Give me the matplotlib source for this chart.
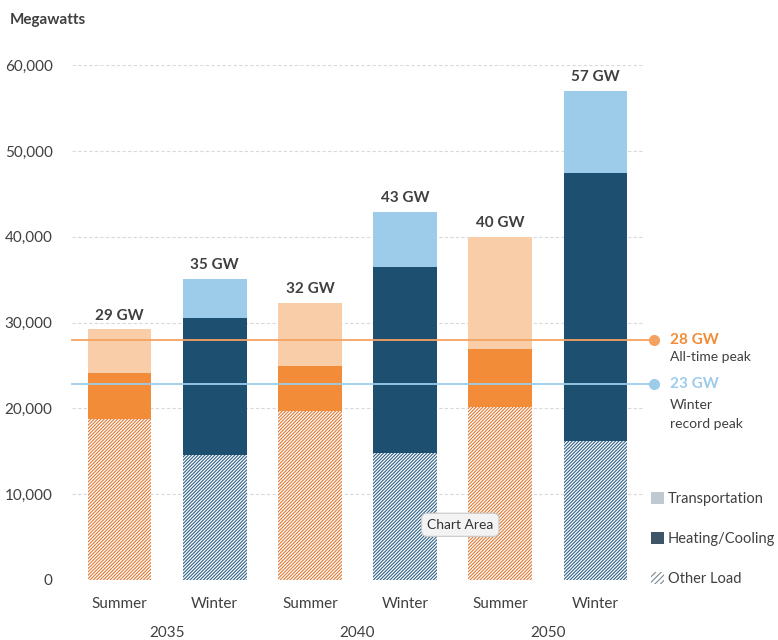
import matplotlib
matplotlib.use("Agg")
import matplotlib.pyplot as plt
from matplotlib.patches import Patch
import numpy as np

plt.rcParams['font.family'] = ['Lato', 'DejaVu Sans']
plt.rcParams['hatch.linewidth'] = 0.8

seasons = ['Summer', 'Winter', 'Summer', 'Winter', 'Summer', 'Winter']
years = ['2035', '2040', '2050']
other_load = [18800, 14600, 19700, 14800, 20200, 16200]
heat_cool = [5300, 15900, 5200, 21700, 6700, 31200]
transport = [5100, 4600, 7400, 6400, 13100, 9600]
totals_gw = ['29 GW', '35 GW', '32 GW', '43 GW', '40 GW', '57 GW']
peak_all = 28000
peak_winter = 22800

c_dark = {'Summer': '#F28C38', 'Winter': '#1D4F70'}
c_light = {'Summer': '#F9CDA8', 'Winter': '#9DCCEB'}
c_hatch = {'Summer': '#E07A35', 'Winter': '#2F6187'}
text_c = '#404040'

fig = plt.figure(figsize=(7.78, 6.4), dpi=100)
ax = fig.add_axes([0.0925, 0.094, 0.734, 0.804])

x = np.arange(len(seasons))
w = 0.67
for i, s in enumerate(seasons):
    ax.bar(x[i], other_load[i], w, color='white', edgecolor=c_hatch[s],
           hatch='//////////', linewidth=0, zorder=2)
    ax.bar(x[i], heat_cool[i], w, bottom=other_load[i], color=c_dark[s],
           linewidth=0, zorder=2)
    ax.bar(x[i], transport[i], w, bottom=other_load[i] + heat_cool[i],
           color=c_light[s], linewidth=0, zorder=2)
    top = other_load[i] + heat_cool[i] + transport[i]
    ax.text(x[i], top + 800, totals_gw[i], ha='center', va='bottom',
            fontsize=11, fontweight='bold', color=text_c)

ax.set_xlim(-0.5, 5.5)
ax.set_ylim(0, 60000)
ax.set_yticks(range(0, 60001, 10000))
ax.set_yticklabels([f'{v:,}' for v in range(0, 60001, 10000)],
                   fontsize=11, color=text_c)
ax.grid(axis='y', color='#D9D9D9', linestyle=(0, (3, 2)), linewidth=0.8, zorder=0)
for sp in ax.spines.values():
    sp.set_visible(False)
ax.tick_params(axis='y', length=0, pad=14)
ax.set_xticks(x)
ax.set_xticklabels(seasons, fontsize=11, color=text_c)
ax.tick_params(axis='x', length=0, pad=12)

for j, yr in enumerate(years):
    ax.text(2 * j + 0.5, -0.103, yr, transform=ax.get_xaxis_transform(),
            ha='center', va='center', fontsize=11, color=text_c)

# peak reference lines
for val, col in [(peak_all, '#F4A261'), (peak_winter, '#9DCCEB')]:
    ax.plot([-0.5, 5.62], [val, val], color=col, linewidth=1.3, zorder=3, clip_on=False)
    ax.plot([5.62], [val], 'o', color=col, markersize=7, zorder=4, clip_on=False)

ax.text(5.78, peak_all, '28 GW', color='#F28C38', fontsize=11, fontweight='bold',
        va='center', ha='left', clip_on=False)
ax.text(5.78, peak_all - 2000, 'All-time peak', color=text_c, fontsize=10,
        va='center', ha='left', clip_on=False)
ax.text(5.78, peak_winter, '23 GW', color='#9DCCEB', fontsize=11, fontweight='bold',
        va='center', ha='left', clip_on=False)
ax.text(5.78, peak_winter - 2400, 'Winter', color=text_c, fontsize=10,
        va='center', ha='left', clip_on=False)
ax.text(5.78, peak_winter - 4600, 'record peak', color=text_c, fontsize=10,
        va='center', ha='left', clip_on=False)

fig.text(0.013, 0.968, 'Megawatts', fontsize=11, fontweight='bold', color=text_c,
         va='center', ha='left')

handles = [Patch(facecolor='#C0C9D0', edgecolor='none', label='Transportation'),
           Patch(facecolor='#3D5566', edgecolor='none', label='Heating/Cooling'),
           Patch(facecolor='white', edgecolor='#7A8890', hatch='//////',
                 linewidth=0, label='Other Load')]
fig.legend(handles=handles, loc='upper left', bbox_to_anchor=(0.829, 0.241),
           frameon=False, fontsize=10.5, labelcolor=text_c, handlelength=0.9,
           handleheight=0.9, handletextpad=0.25, labelspacing=1.78,
           borderaxespad=0, borderpad=0.4)

ax.text(0.68, 0.107, 'Chart Area', transform=ax.transAxes, fontsize=10,
        color='#333333', ha='center', va='center', zorder=6,
        bbox=dict(boxstyle='round,pad=0.4', facecolor='#F3F3F3',
                  edgecolor='#C8C8C8', linewidth=0.8))

fig.savefig('out.png', dpi=100)
